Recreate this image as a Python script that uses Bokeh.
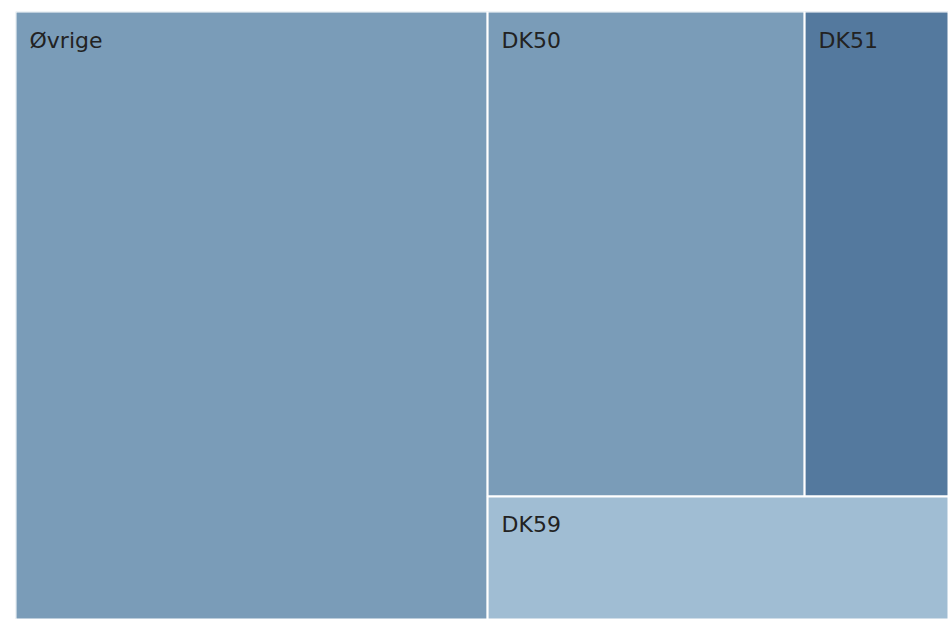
from bokeh.plotting import figure
from bokeh.models import ColumnDataSource, Range1d
from bokeh.core.properties import value
from bokeh.embed import file_html
from bokeh.resources import INLINE

# data
labels = ["Øvrige", "DK50", "DK51", "DK59"]
values = [50.6, 27.1, 12.3, 10.0]
colors = ["#7a9cb8", "#7a9cb8", "#54799e", "#a0bdd3"]

W, H = 933.0, 608.0


def slice_(nodes, x0, y0, x1, y1, total, out):
    # vertical stacking (split along y), from top
    span = y1 - y0
    yt = y1
    for n in nodes:
        h = span * n[1] / total if total else 0
        out.append((n[0], x0, yt - h, x1, yt))
        yt -= h


def dice(nodes, x0, y0, x1, y1, total, out):
    # horizontal stacking (split along x)
    span = x1 - x0
    xl = x0
    for n in nodes:
        w = span * n[1] / total if total else 0
        out.append((n[0], xl, y0, xl + w, y1))
        xl += w


def squarify(nodes, x0, y0, x1, y1, ratio=(1 + 5 ** 0.5) / 2):
    out = []
    total = sum(v for _, v in nodes)
    i0 = 0
    n = len(nodes)
    while i0 < n:
        dx, dy = x1 - x0, y1 - y0
        i1 = i0
        s = nodes[i1][1]
        i1 += 1
        mn = mx = s
        alpha = max(dy / dx, dx / dy) / (total * ratio)
        beta = s * s * alpha
        minr = max(mx / beta, beta / mn)
        while i1 < n:
            v = nodes[i1][1]
            s2 = s + v
            mn2, mx2 = min(mn, v), max(mx, v)
            beta = s2 * s2 * alpha
            nr = max(mx2 / beta, beta / mn2)
            if nr > minr:
                break
            s, mn, mx, minr = s2, mn2, mx2, nr
            i1 += 1
        row = nodes[i0:i1]
        if dx < dy:
            h = dy * s / total
            dice(row, x0, y1 - h, x1, y1, s, out)
            y1 -= h
        else:
            w = dx * s / total
            slice_(row, x0, y0, x0 + w, y1, s, out)
            x0 += w
        total -= s
        i0 = i1
    return out


rects = squarify(list(zip(labels, values)), 0, 0, W, H)
order = {lab: i for i, lab in enumerate(labels)}
rects.sort(key=lambda r: order[r[0]])

src = ColumnDataSource(dict(
    label=[r[0] for r in rects],
    left=[r[1] for r in rects],
    bottom=[r[2] for r in rects],
    right=[r[3] for r in rects],
    top=[r[4] for r in rects],
    color=[colors[order[r[0]]] for r in rects],
))

p = figure(width=948, height=619, output_backend="svg", toolbar_location=None,
           x_range=Range1d(0, W), y_range=Range1d(0, H),
           min_border_left=15, min_border_top=11, min_border_right=0, min_border_bottom=0)
p.axis.visible = False
p.grid.visible = False
p.outline_line_color = None
p.background_fill_color = "white"
p.border_fill_color = "white"

p.quad(left="left", right="right", bottom="bottom", top="top", source=src,
       fill_color="color", line_color="white", line_width=2)

p.text(x="left", y="top", text="label", source=src, x_offset=14, y_offset=16,
       text_baseline="top", text_align="left", text_color="#222222",
       text_font=value("DejaVu Sans"), text_font_size="22px")

open("out.html", "w").write(file_html(p, INLINE))
